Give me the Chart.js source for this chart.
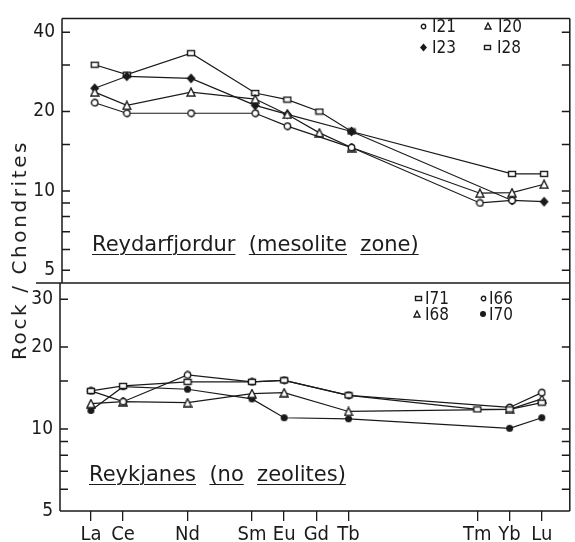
<!DOCTYPE html>
<html>
<head>
<meta charset="utf-8">
<script src="https://cdn.jsdelivr.net/npm/chart.js@4/dist/chart.umd.min.js"></script>
<style>
  html, body { margin: 0; padding: 0; background: #fff; }
  #wrap { position: relative; width: 575px; height: 542px; overflow: hidden; }
  canvas { position: absolute; left: 0; top: 0; }
  .ttl { position: absolute; font-family: "DejaVu Sans", sans-serif; font-size: 21px; line-height: 21px;
         color: #1c1c1c; white-space: pre; }
  .ttl span.u { text-decoration: underline; text-underline-offset: 3px; text-decoration-thickness: 1.4px; }
  #ytitle { position: absolute; left: 19px; top: 250px; font-family: "DejaVu Sans", sans-serif; font-size: 20px;
            line-height: 20px; color: #1c1c1c; white-space: pre; letter-spacing: 2.6px;
            transform: translate(-50%, -50%) rotate(-90deg); }
</style>
</head>
<body>
<div id="wrap">
  <canvas id="top" width="575" height="542"></canvas>
  <canvas id="bot" width="575" height="542"></canvas>
  <div class="ttl" style="left:92px; top:234px;"><span class="u">Reydarfjordur</span>  <span class="u">(mesolite</span>  <span class="u">zone)</span></div>
  <div class="ttl" style="left:89px; top:464px;"><span class="u">Reykjanes</span>  <span class="u">(no</span>  <span class="u">zeolites)</span></div>
  <div id="ytitle">Rock / Chondrites</div>
</div>
<script>
// ---- data ----
const elements      = ['La', 'Ce', 'Nd', 'Sm', 'Eu', 'Gd', 'Tb', 'Tm', 'Yb', 'Lu'];
const atomicNumbers = [57, 58, 60, 62, 63, 64, 65, 69, 70, 71];

// Reydarfjordur (mesolite zone)
const I21 = [21.6, 19.7, 19.7, 19.7, 17.6, null, 14.6, 9.0, 9.2, null];
const I20 = [23.7, 21.1, 23.7, 22.3, 19.5, 16.6, 14.6, 9.8, 9.85, 10.6];
const I23 = [24.5, 27.2, 26.7, 21.1, 19.5, null, 16.8, null, 9.2, 9.1];
const I28 = [30.1, 27.6, 33.3, 23.5, 22.2, 20.0, 16.8, null, 11.6, 11.6];

// Reykjanes (no zeolites)
const I71 = [13.8, 14.4, 14.9, 14.9, 15.1, null, 13.3, 11.8, 11.8, 12.5];
const I66 = [13.8, 12.6, 15.8, 14.9, 15.1, null, 13.3, null, 12.0, 13.6];
const I68 = [12.4, 12.6, 12.5, 13.5, 13.6, null, 11.6, null, 11.8, 12.9];
const I70 = [11.7, 14.3, 14.0, 12.9, 11.0, null, 10.9, null, 10.06, 11.0];

const topTicks = [5, 6, 7, 8, 9, 10, 15, 20, 30, 40];
const topTickLabels = [5, 10, 20, 40];
const botTicks = [5, 6, 7, 8, 9, 10, 15, 20, 30];
const botTickLabels = [5, 10, 20, 30];

// ---- styling ----
const INK = '#1a1a1a';
Chart.defaults.font.family = '"DejaVu Sans Condensed", "DejaVu Sans", sans-serif';
Chart.defaults.color = INK;

function mk(w, h, draw) {
  const c = document.createElement('canvas');
  c.width = w; c.height = h;
  const g = c.getContext('2d');
  g.lineWidth = 1.4; g.strokeStyle = INK; g.fillStyle = INK;
  draw(g, w, h);
  return c;
}
const shape = {
  circle: d => mk(d + 2, d + 2, (g, w, h) => { g.beginPath(); g.arc(w / 2, h / 2, d / 2 - 0.3, 0, Math.PI * 2); g.fillStyle = '#fff'; g.fill(); g.stroke(); }),
  dot: d => mk(d + 2, d + 2, (g, w, h) => { g.beginPath(); g.arc(w / 2, h / 2, d / 2, 0, Math.PI * 2); g.fill(); }),
  tri: d => mk(d + 2, d + 2, (g, w, h) => { g.beginPath(); g.moveTo(w / 2, 1); g.lineTo(w - 1, h - 1); g.lineTo(1, h - 1); g.closePath(); g.fillStyle = '#fff'; g.fill(); g.stroke(); }),
  diamond: d => mk(d + 2, d + 2, (g, w, h) => { g.beginPath(); g.moveTo(w / 2, 0.5); g.lineTo(w - 1, h / 2); g.lineTo(w / 2, h - 0.5); g.lineTo(1, h / 2); g.closePath(); g.fill(); }),
  rect: (w0, h0) => mk(w0 + 2, h0 + 2, (g, w, h) => { g.fillStyle = '#fff'; g.fillRect(1, 1, w - 2, h - 2); g.strokeRect(1.5, 1.5, w - 3, h - 3); })
};
const M = { circle: shape.circle(7), dot: shape.dot(7), tri: shape.tri(8), diamond: shape.diamond(9), rect: shape.rect(8, 6) };
const L = { circle: shape.circle(5), dot: shape.dot(6), tri: shape.tri(6), diamond: shape.diamond(7), rect: shape.rect(7, 5) };

function pts(vals) {
  return vals.map((v, i) => v == null ? null : { x: atomicNumbers[i], y: v }).filter(Boolean);
}
function ds(label, vals, img) {
  return { label, data: pts(vals), pointStyle: img, pointRadius: 4, borderColor: INK, borderWidth: 1.2,
           backgroundColor: INK, fill: false, tension: 0 };
}

const framePlugin = {
  id: 'frame',
  beforeDatasetsDraw(chart, args, o) {
    const { ctx, chartArea: a } = chart;
    const y = chart.scales.y;
    ctx.save();
    ctx.strokeStyle = INK; ctx.lineWidth = 1.5;
    ctx.beginPath();
    if (o.top) { ctx.moveTo(a.left, a.top); ctx.lineTo(a.right, a.top); }
    if (o.bottom) { ctx.moveTo(o.bottomFrom != null ? o.bottomFrom : a.left, a.bottom); ctx.lineTo(a.right, a.bottom); }
    ctx.moveTo(a.left, a.top); ctx.lineTo(a.left, a.bottom);
    ctx.moveTo(a.right, a.top); ctx.lineTo(a.right, a.bottom);
    o.ticks.forEach(v => {
      const py = y.getPixelForValue(v);
      ctx.moveTo(a.left, py); ctx.lineTo(a.left + o.len, py);
      ctx.moveTo(a.right, py); ctx.lineTo(a.right - o.len, py);
    });
    ctx.stroke();
    ctx.restore();
  }
};
const keyPlugin = {
  id: 'keys',
  afterDraw(chart, args, o) {
    const ctx = chart.ctx;
    ctx.save();
    ctx.font = '17px "DejaVu Sans Condensed", "DejaVu Sans", sans-serif';
    ctx.fillStyle = INK; ctx.textBaseline = 'alphabetic'; ctx.textAlign = 'left';
    o.items.forEach(it => {
      ctx.drawImage(it.img, Math.round(it.mx - it.img.width / 2), Math.round(it.y - it.img.height / 2));
      ctx.fillText(it.text, it.tx, it.y + 6);
    });
    ctx.restore();
  }
};

function yScale(min, max, ticks, labels, width) {
  return {
    type: 'logarithmic', min, max,
    afterFit: s => { s.width = width; },
    afterBuildTicks: s => { s.ticks = ticks.map(v => ({ value: v })); },
    grid: { display: false, drawTicks: false },
    border: { display: false },
    ticks: { autoSkip: false, padding: 7, font: { size: 19 }, color: INK,
             callback: v => labels.includes(v) ? String(v) : '' }
  };
}

const common = {
  responsive: false, animation: false, events: [],
  plugins: { legend: { display: false }, tooltip: { enabled: false } }
};

// ---- top panel ----
new Chart(document.getElementById('top'), {
  type: 'line',
  data: { datasets: [
    ds('I21', I21, M.circle), ds('I20', I20, M.tri), ds('I23', I23, M.diamond), ds('I28', I28, M.rect)
  ] },
  options: Object.assign({}, common, {
    layout: { padding: { top: 10, right: 2, bottom: 542 - 283, left: 0 } },
    scales: {
      x: { type: 'linear', min: 55.98, max: 71.8, display: false },
      y: yScale(4.474, 45.1, topTicks, topTickLabels, 62)
    },
    plugins: Object.assign({}, common.plugins, {
      frame: { top: true, bottom: true, bottomFrom: 36, ticks: topTicks, len: 8 },
      keys: { items: [
        { img: L.circle, mx: 423, tx: 432, y: 26, text: 'I21' },
        { img: L.tri, mx: 488, tx: 498, y: 26, text: 'I20' },
        { img: L.diamond, mx: 423, tx: 432, y: 47, text: 'I23' },
        { img: L.rect, mx: 487, tx: 497, y: 47, text: 'I28' }
      ] }
    })
  }),
  plugins: [framePlugin, keyPlugin]
});

// ---- bottom panel ----
new Chart(document.getElementById('bot'), {
  type: 'line',
  data: { datasets: [
    ds('I71', I71, M.rect), ds('I66', I66, M.circle), ds('I68', I68, M.tri), ds('I70', I70, M.dot)
  ] },
  options: Object.assign({}, common, {
    layout: { padding: { top: 283, right: 3, bottom: 0, left: 0 } },
    scales: {
      x: {
        type: 'linear', min: 56.04, max: 71.87,
        afterFit: s => { s.height = 31; },
        afterBuildTicks: s => { s.ticks = atomicNumbers.map(v => ({ value: v })); },
        grid: { display: true, drawOnChartArea: false, drawTicks: true, tickLength: 10, color: INK, lineWidth: 1.3 },
        border: { display: false },
        ticks: { autoSkip: false, maxRotation: 0, padding: 2, font: { size: 20 }, color: INK,
                 callback: v => elements[atomicNumbers.indexOf(v)] || '' }
      },
      y: yScale(4.996, 34.4, botTicks, botTickLabels, 60)
    },
    plugins: Object.assign({}, common.plugins, {
      frame: { top: false, bottom: true, ticks: botTicks, len: 8 },
      keys: { items: [
        { img: L.rect, mx: 418, tx: 425, y: 298, text: 'I71' },
        { img: L.circle, mx: 483, tx: 489, y: 298, text: 'I66' },
        { img: L.tri, mx: 417, tx: 425, y: 314, text: 'I68' },
        { img: L.dot, mx: 483, tx: 489, y: 314, text: 'I70' }
      ] }
    })
  }),
  plugins: [framePlugin, keyPlugin]
});
</script>
</body>
</html>
